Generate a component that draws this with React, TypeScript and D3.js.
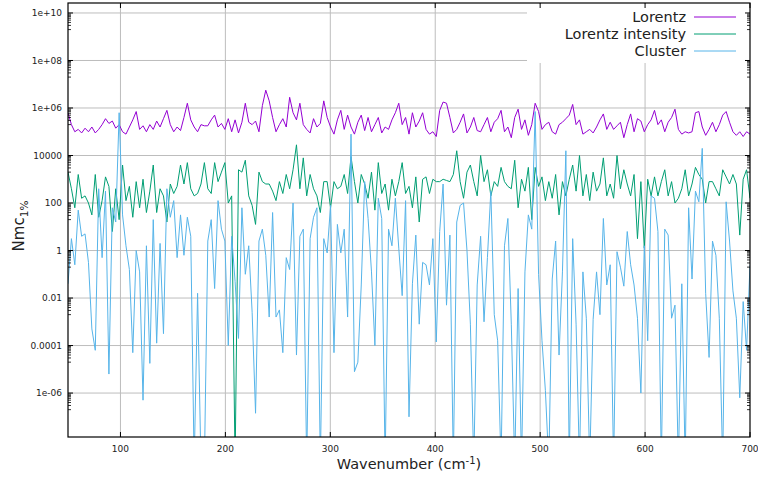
import React from "react";
import * as d3 from "d3";

// sampling grid of the spectra (cm-1)
const waveStart = 50;
const waveStep = 3.25;

// log10 of Nmc 1%, one value per sample
const lorentzLog = [
  5.8,
  5.3, 5.0, 5.1, 4.95, 5.15, 5.0, 5.2, 4.95, 5.1, 5.3,
  5.55, 5.35, 5.45, 5.15, 5.3, 5.0, 4.9, 5.2, 5.5, 5.85,
  5.1, 5.25, 5.0, 5.3, 5.1, 5.45, 5.2, 5.55, 5.9, 5.3,
  5.0, 5.2, 5.05, 5.6, 6.2, 5.5, 5.2, 5.0, 5.3, 5.25,
  5.25, 5.5, 5.7, 5.2, 5.35, 5.1, 5.55, 5.0, 5.5, 4.95,
  5.4, 6.2, 5.4, 5.3, 5.45, 5.0, 6.1, 6.75, 6.3, 5.6,
  5.0, 5.3, 5.55, 5.2, 6.45, 5.8, 5.5, 6.2, 5.3, 5.1,
  4.95, 5.55, 5.2, 5.35, 6.3, 5.6, 5.2, 4.9, 5.5, 5.9,
  5.1, 5.7, 5.2, 4.9, 5.4, 5.7, 5.05, 5.6, 5.0, 5.3,
  5.6, 4.95, 5.2, 5.1, 5.5, 5.8, 6.2, 5.3, 5.6, 4.9,
  5.8, 5.2, 5.45, 5.8, 5.1, 4.9, 5.0, 4.8, 5.9, 6.25,
  6.2, 5.6, 4.95, 5.1, 5.4, 5.75, 4.95, 5.2, 5.6, 5.05,
  5.0, 5.3, 5.6, 5.0, 5.4, 5.55, 5.9, 5.0, 5.2, 4.75,
  5.6, 5.95, 5.1, 5.5, 4.85, 5.3, 6.2, 5.85, 5.1, 5.3,
  5.4, 5.0, 4.9, 5.3, 5.4, 5.55, 5.7, 6.15, 5.3, 5.5,
  4.9, 5.0, 5.1, 4.95, 5.2, 5.5, 5.75, 5.1, 5.4, 5.1,
  5.25, 5.4, 4.75, 5.3, 5.75, 5.0, 5.55, 5.45, 5.0, 5.3,
  5.5, 5.9, 5.3, 5.5, 5.0, 5.4, 5.6, 5.95, 5.1, 4.9,
  5.0, 4.95, 5.0, 5.8, 5.85, 5.2, 4.85, 5.1, 5.4, 5.0,
  5.3, 5.7, 5.85, 5.4, 5.0, 4.85, 5.0, 4.8, 5.0, 4.9,
];

const intensityLog = [
  3.3,
  2.6, 1.8, 3.2, 2.2, 2.3, 2.0, 1.5, 3.2, 1.4, 2.1,
  3.1, 2.7, 0.8, 2.6, 1.3, 3.6, 2.1, 2.7, 1.4, 2.9,
  1.8, 3.0, 1.6, 2.5, 3.6, 1.6, 2.6, 2.3, 1.2, 2.8,
  2.4, 2.7, 3.6, 2.8, 3.7, 2.6, 2.3, 2.4, 2.8, 3.7,
  2.6, 2.4, 3.7, 2.9, 3.3, 3.7, 2.0, 2.3, -9, 3.4,
  3.3, 3.8, 2.3, 1.9, 1.1, 3.3, 2.9, 2.8, 2.8, 2.5,
  2.1, 2.9, 2.4, 3.2, 2.6, 3.4, 4.45, 2.6, 3.9, 2.3,
  3.2, 2.6, 2.3, 1.6, 2.9, 2.9, 1.8, 2.9, 2.6, 2.7,
  3.2, 2.4, 3.95, 2.9, 2.0, 3.2, 2.8, 2.2, 3.3, 1.7,
  3.7, 2.4, 2.8, 1.7, 3.0, 2.3, 2.9, 3.7, 2.4, 2.7,
  1.8, 3.1, 1.2, 3.0, 3.1, 2.4, 3.0, 2.9, 2.9, 3.0,
  2.95, 2.9, 3.2, 4.2, 2.9, 2.2, 3.3, 3.6, 2.9, 2.3,
  4.0, 2.9, 3.4, 2.3, 2.9, 2.7, 3.5, 2.9, 2.7, 2.6,
  3.8, 1.8, 3.0, 2.5, 3.5, 1.3, 3.5, 2.7, 3.1, 2.1,
  2.9, 2.2, 3.2, 1.5, 2.9, 2.3, 3.0, 3.6, 2.5, 4.0,
  2.3, 3.2, 2.1, 3.3, 2.5, 2.8, 3.9, 2.3, 2.8, 2.2,
  4.0, 2.6, 3.4, 2.8, 2.3, 3.2, 0.5, 2.9, 0.1, 3.0,
  2.3, 3.1, 2.3, 2.9, 3.4, 2.3, 2.9, 2.0, 2.2, 2.6,
  3.4, 2.3, 2.8, 3.5, 3.2, 3.0, 2.0, 2.9, 2.9, 2.6,
  2.3, 3.4, 3.1, 2.8, 3.2, 2.8, 0.65, 3.0, 3.4, 2.2,
];

// -9 = value far below the axis (line runs off the bottom)
const clusterLog = [
  -1.4,
  0.5, -0.6, 1.7, 0.6, 0.7, -0.5, -3.3, -4.2, 2.6, -0.3,
  2.5, -5.2, 1.8, 1.2, 5.8, 1.5, 0.2, -0.8, -4.3, 0.0,
  -0.9, -6.3, 0.2, -4.75, 1.3, -3.9, 0.3, -3.5, 2.6, 1.4,
  2.1, -0.3, 1.5, -0.2, 1.4, 0.6, -9, -1.8, -9, -9,
  0.4, 1.3, -1.6, 2.1, 0.9, 0.4, -4.0, 0.6, -1.3, -3.7,
  1.8, -1.0, 0.2, -2.6, -6.85, 0.4, 0.9, -0.2, -2.8, 1.6,
  -2.8, -2.5, -4.3, -0.3, -0.8, 2.0, -4.4, 0.6, 0.9, -9,
  0.5, 1.4, 1.8, -9, 0.5, -0.1, 1.9, -4.3, 1.1, -0.1,
  0.9, -2.8, 4.9, -5.1, -4.7, -1.45, 2.9, 1.35, -0.9, -4.0,
  2.2, 1.35, -9, 0.9, 0.2, 2.2, 0.1, -1.9, 2.1, -7.0,
  -1.4, 0.65, -3.1, -0.5, -0.6, -1.45, 0.5, -3.85, 0.8, 2.8,
  -2.3, 0.65, -9, 1.2, 1.9, 2.0, 0.0, -3.1, -9, -1.45,
  0.6, -3.0, -0.3, 2.5, -2.7, -3.8, -9, 0.2, 1.35, -3.1,
  -9, -1.6, -9, -0.9, 1.5, 0.9, 5.85, -1.0, -3.8, -5.9,
  -9, -1.2, 0.4, -4.4, -0.9, 4.2, -9, 0.5, -3.1, -9,
  -0.9, -2.85, -9, -2.9, -0.9, -2.7, 1.35, -1.45, -0.6, -9,
  -0.05, -0.7, -1.5, 0.8, -0.6, -1.45, -2.85, -6.0, 0.2, -3.8,
  2.3, 2.2, 0.8, -9, 0.9, 0.65, -2.85, -2.3, -9, -1.4,
  -9, 1.8, -1.2, 2.5, 2.05, 4.3, -1.8, -4.5, 0.4, -0.2,
  -2.85, -9, 2.05, 0.4, -1.7, -2.85, -6.2, -2.15, -4.2, -0.6,
];

const seriesNames = ["Lorentz", "Lorentz intensity", "Cluster"];
const seriesColors = ["#9400d3", "#009e73", "#56b4e9"];

const xTicks = [100, 200, 300, 400, 500, 600, 700];
const yTickExp = [-6, -4, -2, 0, 2, 4, 6, 8, 10];
const yTickLabels = ["1e-06", "0.0001", "0.01", "1", "100", "10000", "1e+06", "1e+08", "1e+10"];

const W = 758;
const H = 477;
const left = 68;
const right = 750;
const top = 3;
const bottom = 437;
const font = "DejaVu Sans, sans-serif";

const App = () => {
  const x = d3.scaleLinear().domain([50, 700]).range([left, right]);
  const y = d3
    .scaleLog()
    .domain([Math.pow(10, -7.85), Math.pow(10, 10.42)])
    .range([bottom, top]);

  const line = d3
    .line<number>()
    .x((d, i) => x(waveStart + i * waveStep))
    .y(d => y(Math.pow(10, d)));

  const series = [lorentzLog, intensityLog, clusterLog];

  // minor ticks: k * 10^(M-1) under each labelled decade
  const minor: number[] = [];
  yTickExp.forEach(m => {
    for (let k = 2; k <= 9; k++) minor.push(k * Math.pow(10, m - 1));
  });

  return (
    <svg width={W} height={H} style={{ position: "absolute", left: 0, top: 0 }} fontFamily={font}>
      <defs>
        <clipPath id="plot">
          <rect x={left} y={top} width={right - left} height={bottom - top} />
        </clipPath>
      </defs>
      <rect width={W} height={H} fill="#fff" />

      {/* grid */}
      {yTickExp.map(e => (
        <line key={"gy" + e} x1={left} x2={right} y1={y(Math.pow(10, e))} y2={y(Math.pow(10, e))}
          stroke="#bdbdbd" strokeWidth={1} />
      ))}
      {xTicks.filter(t => t < 700).map(t => (
        <line key={"gx" + t} x1={x(t)} x2={x(t)} y1={top} y2={bottom} stroke="#bdbdbd" strokeWidth={1} />
      ))}

      <g clipPath="url(#plot)">
        {series.map((s, i) => (
          <path key={i} d={line(s) || ""} fill="none" stroke={seriesColors[i]} strokeWidth={1} />
        ))}
      </g>

      {/* key, opaque */}
      <rect x={527} y={top + 1} width={right - 528} height={59} fill="#fff" />
      {seriesNames.map((n, i) => (
        <g key={n}>
          <text x={686} y={22 + i * 17} textAnchor="end" fontSize={14.5} fill="#222">{n}</text>
          <line x1={694} x2={736} y1={17 + i * 17} y2={17 + i * 17} stroke={seriesColors[i]} strokeWidth={1} />
        </g>
      ))}

      {/* ticks */}
      {yTickExp.map(e => {
        const yy = y(Math.pow(10, e));
        return (
          <g key={"ty" + e}>
            <line x1={left} x2={left + 5} y1={yy} y2={yy} stroke="#000" />
            <line x1={right} x2={right - 5} y1={yy} y2={yy} stroke="#000" />
          </g>
        );
      })}
      {minor.map(v => {
        const yy = y(v);
        return (
          <g key={"my" + v}>
            <line x1={left} x2={left + 3} y1={yy} y2={yy} stroke="#000" strokeWidth={0.8} />
            <line x1={right} x2={right - 3} y1={yy} y2={yy} stroke="#000" strokeWidth={0.8} />
          </g>
        );
      })}
      {xTicks.map(t => (
        <g key={"tx" + t}>
          <line x1={x(t)} x2={x(t)} y1={bottom} y2={bottom - 5} stroke="#000" />
          <line x1={x(t)} x2={x(t)} y1={top} y2={top + 5} stroke="#000" />
        </g>
      ))}

      <rect x={left} y={top} width={right - left} height={bottom - top} fill="none" stroke="#000" strokeWidth={1.2} />

      {/* tick labels */}
      {yTickExp.map((e, i) => (
        <text key={"ly" + e} x={62} y={y(Math.pow(10, e)) + 3.3} textAnchor="end" fontSize={9} fill="#222">
          {yTickLabels[i]}
        </text>
      ))}
      {xTicks.map(t => (
        <text key={"lx" + t} x={x(t)} y={452} textAnchor="middle" fontSize={9} fill="#222">{t}</text>
      ))}

      {/* axis titles */}
      <text x={409} y={469} textAnchor="middle" fontSize={14.5} fill="#222">
        Wavenumber (cm<tspan dy={-5} fontSize={10}>-1</tspan><tspan dy={5}>)</tspan>
      </text>
      <text transform="translate(24,226) rotate(-90)" textAnchor="middle" fontSize={15} fill="#222">
        Nmc<tspan dy={4} fontSize={10.5}>1%</tspan>
      </text>
    </svg>
  );
};

export default App;
